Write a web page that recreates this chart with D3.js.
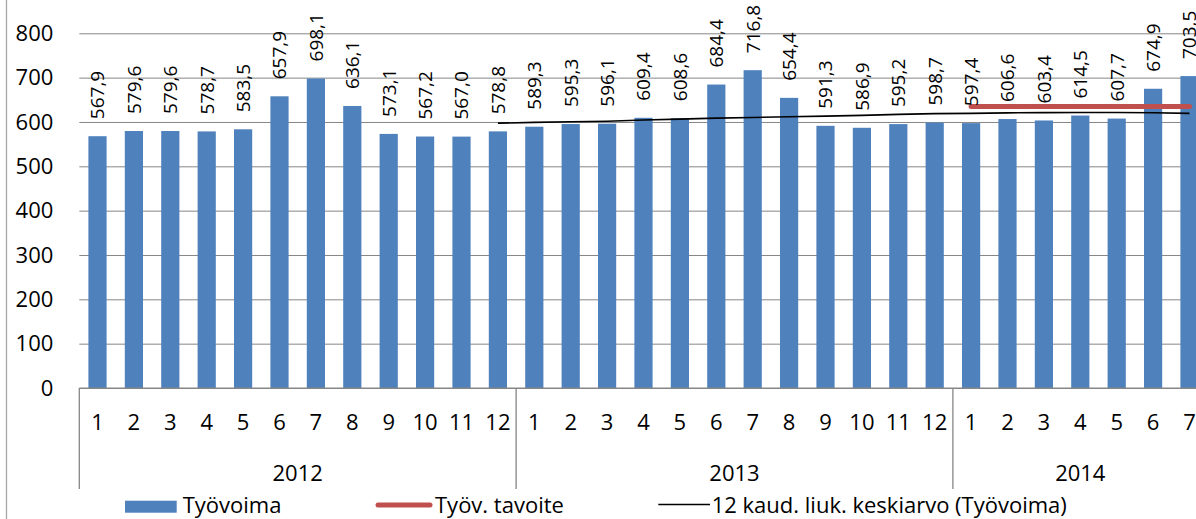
<!DOCTYPE html>
<html lang="fi">
<head>
    <meta charset="UTF-8">
    <title>Työvoima</title>
    <script src="https://d3js.org/d3.v7.min.js"></script>
    <style>
        body { margin: 0; background: #fff; }
        text { font-family: "Open Sans", sans-serif; fill: #000; }
    </style>
</head>
<body>
</body>

<script>
    // kuukaudet ja vuodet
    var years = ["2012", "2013", "2014"];
    var monthsPerYear = [12, 12, 7];
    var months = [1, 2, 3, 4, 5, 6, 7, 8, 9, 10, 11, 12,
                  1, 2, 3, 4, 5, 6, 7, 8, 9, 10, 11, 12,
                  1, 2, 3, 4, 5, 6, 7];

    // Työvoima (bars)
    var tyovoima = [567.9, 579.6, 579.6, 578.7, 583.5, 657.9, 698.1, 636.1, 573.1, 567.2, 567.0, 578.8,
                    589.3, 595.3, 596.1, 609.4, 608.6, 684.4, 716.8, 654.4, 591.3, 586.9, 595.2, 598.7,
                    597.4, 606.6, 603.4, 614.5, 607.7, 674.9, 703.5];

    // Työv. tavoite, 2014 / 1-7
    var tavoiteStart = 24;
    var tavoite = [635, 635, 635, 635, 635, 635, 635];

    // 12 kaud. liuk. keskiarvo, 2012/12 -> 2014/7
    var liukStart = 11;
    var liukKa = [597.3, 599.1, 600.4, 601.8, 604.3, 606.4, 608.6, 610.2, 611.7, 613.2,
                  614.9, 617.2, 618.9, 619.5, 620.5, 621.1, 621.5, 621.4, 620.7, 619.5];

    var yTicks = [0, 100, 200, 300, 400, 500, 600, 700, 800];

    var width = 1196;
    var height = 519;
    var plotLeft = 79.3, plotRight = 79.3 + 31 * 36.4;
    var plotTop = 33.3, plotBottom = 388;

    var svg = d3.select("body")
        .append("svg")
        .attr("width", width)
        .attr("height", height);

    var x = d3.scaleBand()
        .domain(d3.range(months.length))
        .range([plotLeft, plotRight])
        .paddingInner(0.5)
        .paddingOuter(0.25);

    var y = d3.scaleLinear()
        .domain([0, 800])
        .range([plotBottom, plotTop]);

    var cx = function (i) { return x(i) + x.bandwidth() / 2; };

    // chart frame on the left
    svg.append("line")
        .attr("x1", 6.5).attr("x2", 6.5)
        .attr("y1", 0).attr("y2", height)
        .attr("stroke", "#a6a6a6")
        .attr("stroke-width", 1.3);

    // gridlines + y axis
    var yAxis = svg.append("g")
        .attr("transform", "translate(" + plotLeft + ",0)")
        .call(d3.axisLeft(y).tickValues(yTicks).tickSize(-(plotRight - plotLeft)).tickPadding(26));
    yAxis.select(".domain").remove();
    yAxis.selectAll(".tick line").attr("stroke", "#868686").attr("stroke-width", 1);
    yAxis.selectAll(".tick text")
        .style("font-family", "'Open Sans', sans-serif")
        .style("font-size", "22px")
        .attr("fill", "#000");

    // bars
    svg.append("g")
        .selectAll("rect")
        .data(tyovoima)
        .enter()
        .append("rect")
        .attr("x", function (d, i) { return x(i); })
        .attr("y", function (d) { return y(d); })
        .attr("width", x.bandwidth())
        .attr("height", function (d) { return y(0) - y(d); })
        .attr("fill", "#4f81bd");

    // tavoite line (red)
    var line = d3.line()
        .x(function (d) { return cx(d.i); })
        .y(function (d) { return y(d.v); });

    svg.append("path")
        .datum(tavoite.map(function (v, k) { return {i: tavoiteStart + k, v: v}; }))
        .attr("d", line)
        .attr("fill", "none")
        .attr("stroke", "#c0504d")
        .attr("stroke-width", 5)
        .attr("stroke-linecap", "round");

    // moving average (black)
    svg.append("path")
        .datum(liukKa.map(function (v, k) { return {i: liukStart + k, v: v}; }))
        .attr("d", line)
        .attr("fill", "none")
        .attr("stroke", "#000")
        .attr("stroke-width", 1.6);

    // value labels, rotated
    svg.append("g")
        .selectAll("text")
        .data(tyovoima)
        .enter()
        .append("text")
        .attr("transform", function (d, i) {
            return "translate(" + cx(i) + "," + (y(d) - 17) + ") rotate(-90)";
        })
        .attr("text-anchor", "start")
        .attr("dy", "0.36em")
        .style("font-size", "19px")
        .text(function (d) { return d.toFixed(1).replace(".", ","); });

    // x axis line
    svg.append("line")
        .attr("x1", plotLeft).attr("x2", plotRight)
        .attr("y1", y(0)).attr("y2", y(0))
        .attr("stroke", "#868686");

    // month labels
    svg.append("g")
        .selectAll("text")
        .data(months)
        .enter()
        .append("text")
        .attr("x", function (d, i) { return cx(i); })
        .attr("y", 430)
        .attr("text-anchor", "middle")
        .style("font-size", "22px")
        .text(function (d) { return d; });

    // year separators and labels
    var offsets = [0];
    monthsPerYear.forEach(function (n, k) { offsets.push(offsets[k] + n); });

    svg.append("g")
        .selectAll("line")
        .data(offsets)
        .enter()
        .append("line")
        .attr("x1", function (d) { return plotLeft + d * x.step(); })
        .attr("x2", function (d) { return plotLeft + d * x.step(); })
        .attr("y1", y(0))
        .attr("y2", 489)
        .attr("stroke", "#868686")
        .attr("stroke-width", 1.3);

    svg.append("g")
        .selectAll("text")
        .data(years)
        .enter()
        .append("text")
        .attr("x", function (d, k) {
            return plotLeft + (offsets[k] + monthsPerYear[k] / 2) * x.step();
        })
        .attr("y", 481)
        .attr("text-anchor", "middle")
        .style("font-size", "22px")
        .text(function (d) { return d; });

    // legend
    var legend = svg.append("g");
    legend.append("rect")
        .attr("x", 125).attr("y", 500.7)
        .attr("width", 51.7).attr("height", 12)
        .attr("fill", "#4f81bd");
    legend.append("text")
        .attr("x", 182.7).attr("y", 513)
        .style("font-size", "22px")
        .text("Työvoima");

    legend.append("line")
        .attr("x1", 378).attr("x2", 430)
        .attr("y1", 505).attr("y2", 505)
        .attr("stroke", "#c0504d")
        .attr("stroke-width", 5)
        .attr("stroke-linecap", "round");
    legend.append("text")
        .attr("x", 435).attr("y", 513)
        .style("font-size", "22px")
        .text("Työv. tavoite");

    legend.append("line")
        .attr("x1", 658.3).attr("x2", 710)
        .attr("y1", 504.5).attr("y2", 504.5)
        .attr("stroke", "#000")
        .attr("stroke-width", 1.3);
    legend.append("text")
        .attr("x", 711.7).attr("y", 513)
        .style("font-size", "22px")
        .text("12 kaud. liuk. keskiarvo (Työvoima)");
</script>
</html>
